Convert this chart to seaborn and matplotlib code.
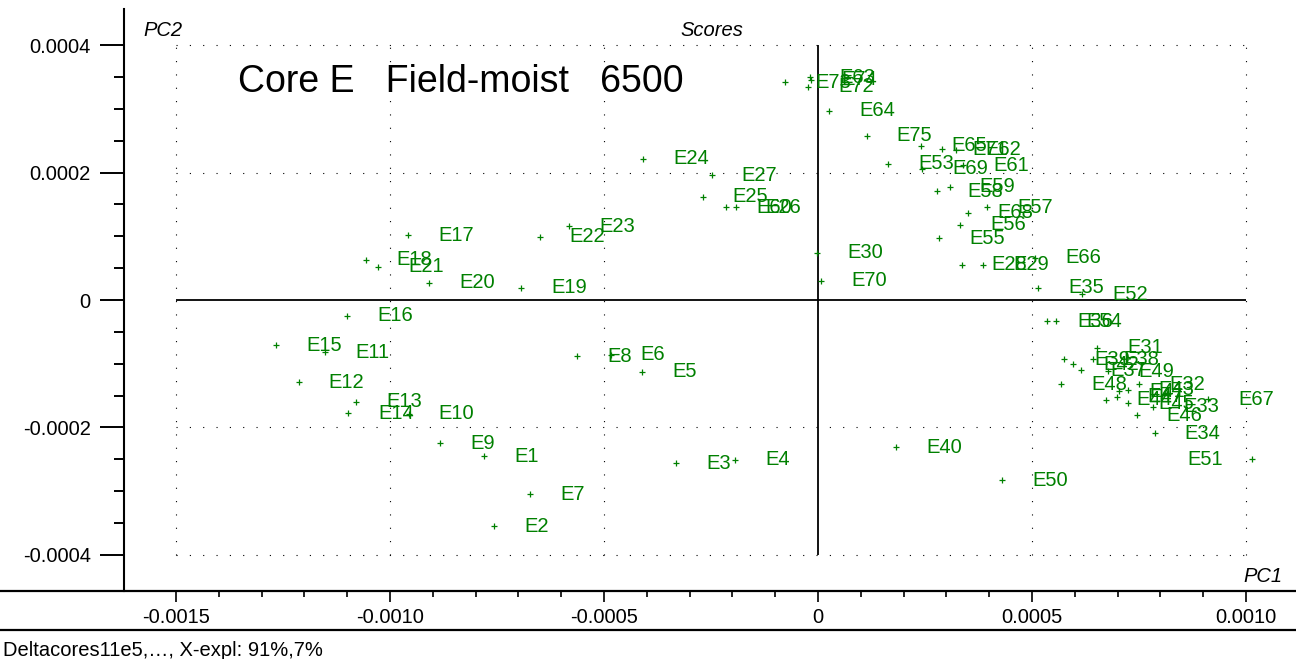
import numpy as np
import pandas as pd
import matplotlib
matplotlib.use("Agg")
import matplotlib.pyplot as plt
import seaborn as sns
from matplotlib.lines import Line2D
from matplotlib.ticker import FixedLocator

# ---------------- data (PCA scores) ----------------
sample_names = ["E1", "E2", "E3", "E4", "E5", "E6", "E7", "E8", "E9", "E10",
                "E11", "E12", "E13", "E14", "E15", "E16", "E17", "E18", "E19", "E20",
                "E21", "E22", "E23", "E24", "E25", "E26", "E27", "E28", "E29", "E30",
                "E31", "E32", "E33", "E34", "E35", "E36", "E37", "E38", "E39", "E40",
                "E41", "E42", "E43", "E44", "E45", "E46", "E47", "E48", "E49", "E50",
                "E51", "E52", "E53", "E54", "E55", "E56", "E57", "E58", "E59", "E60",
                "E61", "E62", "E63", "E64", "E65", "E66", "E67", "E68", "E69", "E70",
                "E71", "E72", "E73", "E74", "E75"]
pc1_scores = [-7.80e-4, -7.57e-4, -3.32e-4, -1.94e-4, -4.11e-4, -4.84e-4, -6.73e-4, -5.63e-4, -8.83e-4, -9.56e-4,
              -11.52e-4, -12.13e-4, -10.79e-4, -10.98e-4, -12.66e-4, -11.00e-4, -9.58e-4, -10.56e-4, -6.94e-4, -9.09e-4,
              -10.28e-4, -6.50e-4, -5.82e-4, -4.09e-4, -2.69e-4, -1.92e-4, -2.48e-4, 3.36e-4, 3.86e-4, -0.02e-4,
              6.52e-4, 7.50e-4, 7.83e-4, 7.87e-4, 5.14e-4, 5.35e-4, 6.14e-4, 6.43e-4, 5.75e-4, 1.82e-4,
              7.03e-4, 5.96e-4, 7.24e-4, 6.73e-4, 7.24e-4, 7.45e-4, 6.99e-4, 5.68e-4, 6.78e-4, 4.30e-4,
              10.14e-4, 6.17e-4, 1.64e-4, 5.56e-4, 2.83e-4, 3.32e-4, 3.95e-4, 2.78e-4, 3.08e-4, -2.15e-4,
              3.39e-4, 3.22e-4, -0.19e-4, 0.26e-4, 2.41e-4, 5.07e-4, 9.11e-4, 3.50e-4, 2.43e-4, 0.07e-4,
              2.90e-4, -0.23e-4, -0.77e-4, -0.16e-4, 1.14e-4]
pc2_scores = [-2.45e-4, -3.55e-4, -2.56e-4, -2.51e-4, -1.13e-4, -0.86e-4, -3.05e-4, -0.88e-4, -2.25e-4, -1.79e-4,
              -0.82e-4, -1.29e-4, -1.60e-4, -1.78e-4, -0.71e-4, -0.25e-4, 1.02e-4, 0.63e-4, 0.19e-4, 0.27e-4,
              0.52e-4, 0.99e-4, 1.16e-4, 2.22e-4, 1.62e-4, 1.46e-4, 1.96e-4, 0.55e-4, 0.55e-4, 0.74e-4,
              -0.75e-4, -1.32e-4, -1.68e-4, -2.09e-4, 0.19e-4, -0.33e-4, -1.10e-4, -0.93e-4, -0.93e-4, -2.31e-4,
              -1.43e-4, -1.01e-4, -1.41e-4, -1.57e-4, -1.62e-4, -1.81e-4, -1.52e-4, -1.32e-4, -1.12e-4, -2.83e-4,
              -2.50e-4, 0.09e-4, 2.14e-4, -0.33e-4, 0.97e-4, 1.18e-4, 1.46e-4, 1.71e-4, 1.78e-4, 1.46e-4,
              2.12e-4, 2.36e-4, 3.50e-4, 2.97e-4, 2.42e-4, 0.66e-4, -1.56e-4, 1.37e-4, 2.06e-4, 0.30e-4,
              2.37e-4, 3.35e-4, 3.42e-4, 3.46e-4, 2.58e-4]

x_major = [-0.0015, -0.0010, -0.0005, 0.0, 0.0005, 0.0010]
x_major_labels = ["-0.0015", "-0.0010", "-0.0005", "0", "0.0005", "0.0010"]
y_major = [-0.0004, -0.0002, 0.0, 0.0002, 0.0004]
y_major_labels = ["-0.0004", "-0.0002", "0", "0.0002", "0.0004"]

title_text = "Scores"
annotation_text = "Core E   Field-moist   6500"
footer_text = "Deltacores11e5,\u2026, X-expl: 91%,7%"

# ---------------- style ----------------
sns.set_style("white")
plt.rcParams["font.family"] = ["Liberation Sans", "DejaVu Sans"]
plt.rcParams["text.color"] = "black"
plt.rcParams["axes.labelcolor"] = "black"
plt.rcParams["xtick.color"] = "black"
plt.rcParams["ytick.color"] = "black"
GREEN = "#008000"
FS = 14.5

W, H = 1296, 659
fig = plt.figure(figsize=(W / 100, H / 100), dpi=100)
ax = fig.add_axes([124 / W, (H - 591) / H, (W - 124) / W, (591 - 9) / H])

df = pd.DataFrame({"name": sample_names, "PC1": pc1_scores, "PC2": pc2_scores})

# dotted grid restricted to the tick range
dot = (0, (1, 11))
ax.hlines([y for y in y_major if y != 0], x_major[0], x_major[-1], colors="black",
          linestyles=dot, linewidth=0.8, zorder=1)
ax.vlines([x for x in x_major if x != 0], y_major[0], y_major[-1], colors="black",
          linestyles=dot, linewidth=0.8, zorder=1)
# solid zero lines
ax.hlines(0, x_major[0], x_major[-1], colors="black", linewidth=1.3, zorder=2)
ax.vlines(0, y_major[0], y_major[-1], colors="black", linewidth=1.3, zorder=2)

sns.scatterplot(data=df, x="PC1", y="PC2", marker="+", color=GREEN, s=14,
                linewidth=0.9, ax=ax, legend=False, zorder=3)

ax.set_xlim(-0.0016215, 0.0011168)
ax.set_ylim(-0.000457, 0.000457)

for _, r in df.iterrows():
    if r.PC1 > 0.00098:
        ax.annotate(r["name"], (r.PC1, r.PC2), xytext=(-21, 0), textcoords="offset points",
                    ha="right", va="center", color=GREEN, fontsize=FS, zorder=4)
    else:
        ax.annotate(r["name"], (r.PC1, r.PC2), xytext=(21.6, 0), textcoords="offset points",
                    ha="left", va="center", color=GREEN, fontsize=FS, zorder=4)

ax.set_xticks(x_major)
ax.set_xticklabels(x_major_labels)
ax.set_yticks(y_major)
ax.set_yticklabels(y_major_labels)
ax.xaxis.set_minor_locator(FixedLocator(np.round(np.arange(-15, 11) * 1e-4, 6)))
ax.yaxis.set_minor_locator(FixedLocator(np.round(np.arange(-8, 9) * 0.5e-4, 7)))
ax.tick_params(axis="y", which="major", length=17, width=1.4, direction="out", pad=7,
               labelsize=FS, color="black", labelcolor="black", left=True)
ax.tick_params(axis="y", which="minor", length=7, width=1.4, direction="out", left=True)
ax.tick_params(axis="x", which="major", length=8, width=1.2, direction="out", pad=4,
               labelsize=FS, color="black", labelcolor="black", bottom=True)
ax.tick_params(axis="x", which="minor", length=4.5, width=1.2, direction="out", bottom=True)
ax.set_xlabel("")
ax.set_ylabel("")

for side in ["top", "right", "bottom"]:
    ax.spines[side].set_visible(False)
ax.spines["left"].set_color("black")
ax.spines["left"].set_linewidth(1.5)

# full-width horizontal rules
for ypx in (591, 630):
    fig.add_artist(Line2D([0, 1], [(H - ypx) / H] * 2, color="black", linewidth=1.6,
                          transform=fig.transFigure))

fig.text(143 / W, 1 - 30 / H, "PC2", style="italic", fontsize=FS, ha="left", va="center", color="black")
fig.text(712 / W, 1 - 30 / H, title_text, style="italic", fontsize=FS, ha="center", va="center", color="black")
fig.text(1282 / W, 1 - 576 / H, "PC1", style="italic", fontsize=FS, ha="right", va="center", color="black")
fig.text(238 / W, 1 - 82 / H, annotation_text, fontsize=27, ha="left", va="center", color="black")
fig.text(3 / W, 1 - 650 / H, footer_text, fontsize=FS, ha="left", va="center", color="black")

fig.savefig("out.png", dpi=100)
